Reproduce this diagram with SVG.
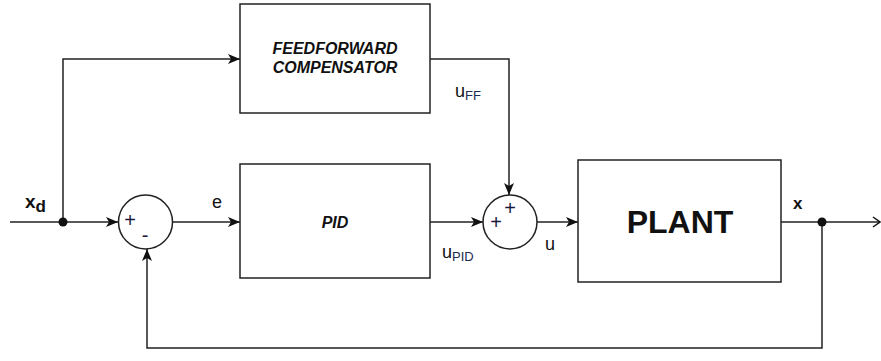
<svg xmlns="http://www.w3.org/2000/svg" width="881" height="361" viewBox="0 0 881 361">
<style>
.box{fill:#fff;stroke:#222;stroke-width:1.5}
.sum{fill:#fff;stroke:#222;stroke-width:1.5}
.ln{fill:none;stroke:#222;stroke-width:1.5}
.lbl{font-family:"Liberation Sans",Arial,sans-serif;fill:#111}
.bi{font-weight:bold;font-style:italic;font-size:16px}
.sg{font-family:"Liberation Sans",Arial,sans-serif;font-size:20px;fill:#1a1a40}
</style>
<defs>
<marker id="arr" viewBox="0 0 12 10" refX="12" refY="5" markerWidth="12" markerHeight="10" markerUnits="userSpaceOnUse" orient="auto">
<path d="M0,0 L12,5 L0,10 L3,5 Z" fill="#111"/>
</marker>
<marker id="open" viewBox="0 0 10 12" refX="9" refY="6" markerWidth="10" markerHeight="12" markerUnits="userSpaceOnUse" orient="auto">
<path d="M2,1 L9,6 L2,11" fill="none" stroke="#111" stroke-width="1.5"/>
</marker>
</defs>
<g id="connectors">
<line class="ln" x1="10" y1="222" x2="118" y2="222" marker-end="url(#arr)"/>
<polyline class="ln" points="63,222 63,59 240,59" marker-end="url(#arr)"/>
<line class="ln" x1="173" y1="222" x2="240" y2="222" marker-end="url(#arr)"/>
<line class="ln" x1="430" y1="222" x2="483" y2="222" marker-end="url(#arr)"/>
<polyline class="ln" points="430,59 509,59 509,195" marker-end="url(#arr)"/>
<line class="ln" x1="537" y1="222" x2="578" y2="222" marker-end="url(#arr)"/>
<line class="ln" x1="781" y1="222" x2="880" y2="222" marker-end="url(#open)"/>
<polyline class="ln" points="822,222 822,348 147,348 147,249" marker-end="url(#arr)"/>
<circle cx="63" cy="222" r="4.5" fill="#111"/>
<circle cx="822" cy="222" r="4.5" fill="#111"/>
</g>
<g id="feedforward">
<rect class="box" x="240" y="4" width="190" height="109"/>
<text class="lbl bi" x="335" y="54" text-anchor="middle">FEEDFORWARD</text>
<text class="lbl bi" x="335" y="73" text-anchor="middle">COMPENSATOR</text>
</g>
<g id="pid">
<rect class="box" x="240" y="164" width="190" height="114"/>
<text class="lbl bi" x="335" y="228" text-anchor="middle">PID</text>
</g>
<g id="plant">
<rect class="box" x="578" y="160" width="203" height="122"/>
<text class="lbl" x="680" y="233" text-anchor="middle" font-size="32" font-weight="bold">PLANT</text>
</g>
<g id="sum1">
<circle class="sum" cx="145.5" cy="222" r="27"/>
<text class="sg" x="130" y="227" text-anchor="middle">+</text>
<text class="sg" x="145" y="242" text-anchor="middle">-</text>
</g>
<g id="sum2">
<circle class="sum" cx="510" cy="222" r="27"/>
<text class="sg" x="510" y="215" text-anchor="middle">+</text>
<text class="sg" x="496" y="229" text-anchor="middle">+</text>
</g>
<g id="labels">
<text class="lbl" x="25" y="208" font-size="19" font-weight="bold">x<tspan font-size="17" dy="4">d</tspan></text>
<text class="lbl" x="212" y="208" font-size="18">e</text>
<text class="lbl" x="455" y="97" font-size="18">u<tspan font-size="13" dy="3" fill="#1a2a50">FF</tspan></text>
<text class="lbl" x="442" y="258" font-size="18">u<tspan font-size="13" dy="3" fill="#1a2a50">PID</tspan></text>
<text class="lbl" x="545" y="250" font-size="18">u</text>
<text class="lbl" x="793" y="209" font-size="17" font-weight="bold">x</text>
</g>
</svg>
